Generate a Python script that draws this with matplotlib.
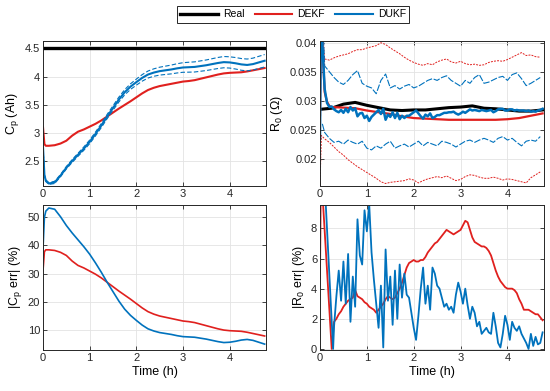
import numpy as np
import matplotlib.pyplot as plt

plt.rcParams['font.family'] = ['Liberation Sans', 'DejaVu Sans']
plt.rcParams['mathtext.fontset'] = 'custom'
plt.rcParams['mathtext.rm'] = 'Liberation Sans'
plt.rcParams['mathtext.it'] = 'Liberation Sans:italic'
plt.rcParams['mathtext.default'] = 'regular'

RED = '#E0201E'
BLUE = '#0072BD'

# ---------------- capacity Cp (Ah) ----------------
cp_real = 4.5
cp_t_head = [0.0, 0.03, 0.06]
cp_step = 0.125
cp_dekf = [3.10, 2.80, 2.77,
           2.770, 2.780, 2.810, 2.860, 2.950, 3.020, 3.060, 3.110, 3.160, 3.220,
           3.290, 3.360, 3.430, 3.495, 3.560, 3.630, 3.700, 3.760, 3.800, 3.830,
           3.850, 3.870, 3.890, 3.910, 3.920, 3.935, 3.960, 3.985, 4.010, 4.035,
           4.055, 4.065, 4.070, 4.075, 4.090, 4.110, 4.130, 4.150]
cp_dukf = [2.75, 2.25, 2.15,
           2.100, 2.120, 2.240, 2.380, 2.500, 2.610, 2.720, 2.840, 2.980, 3.130,
           3.290, 3.440, 3.590, 3.720, 3.820, 3.900, 3.975, 4.035, 4.070, 4.095,
           4.110, 4.125, 4.145, 4.160, 4.165, 4.170, 4.185, 4.200, 4.220, 4.240,
           4.255, 4.250, 4.235, 4.215, 4.205, 4.220, 4.250, 4.280]
cp_dukf_band = [0.0, 0.01, 0.015,
                0.015, 0.020, 0.020, 0.022, 0.025, 0.027, 0.030, 0.032, 0.034, 0.036,
                0.038, 0.040, 0.043, 0.046, 0.050, 0.054, 0.058, 0.062, 0.066, 0.070,
                0.074, 0.078, 0.082, 0.085, 0.088, 0.090, 0.092, 0.094, 0.096, 0.098,
                0.100, 0.100, 0.102, 0.104, 0.105, 0.106, 0.108, 0.110]

# ---------------- resistance R0 (Ohm) ----------------
r0_real_step = 0.25
r0_real = [0.0285, 0.0287, 0.0294, 0.0297, 0.0292, 0.0288, 0.0284, 0.0283,
           0.0284, 0.0284, 0.0286, 0.0288, 0.0289, 0.0291, 0.0287, 0.0286,
           0.0284, 0.0282, 0.0282, 0.0284]

r0_dekf_t_head = [0.0, 0.02, 0.05, 0.10, 0.15, 0.20]
r0_dekf_head = [0.0275, 0.045, 0.040, 0.0315, 0.0298, 0.0291]
r0_dekf = [0.0289, 0.0288, 0.0287, 0.0283, 0.0280, 0.0277, 0.0273, 0.0270,
           0.0269, 0.0268, 0.0267, 0.0267, 0.0267, 0.0267, 0.0267, 0.0268,
           0.0270, 0.0274, 0.0278]

r0_dukf_t_head = [0.0, 0.02]
r0_dukf_head = [0.0235, 0.045]
r0_dukf = [0.0400, 0.0320, 0.0296, 0.0289, 0.0290, 0.0285, 0.0282, 0.0280,
           0.0284, 0.0279, 0.0286, 0.0280, 0.0289, 0.0283, 0.0287, 0.0273,
           0.0278, 0.0279, 0.0270, 0.0274, 0.0265, 0.0272, 0.0276, 0.0280,
           0.0284, 0.0277, 0.0286, 0.0267, 0.0276, 0.0272, 0.0280, 0.0270,
           0.0279, 0.0268, 0.0274, 0.0270, 0.0274, 0.0274, 0.0277, 0.0280,
           0.0283, 0.0278, 0.0273, 0.0269, 0.0276, 0.0273, 0.0278, 0.0270,
           0.0272, 0.0275, 0.0275, 0.0277, 0.0279, 0.0279, 0.0280, 0.0280,
           0.0281, 0.0278, 0.0276, 0.0278, 0.0281, 0.0279, 0.0282, 0.0285,
           0.0283, 0.0284, 0.0283, 0.0282, 0.0284, 0.0283, 0.0282, 0.0283,
           0.0284, 0.0280, 0.0282, 0.0285, 0.0286, 0.0286, 0.0283, 0.0283,
           0.0285, 0.0285, 0.0283, 0.0284, 0.0283, 0.0283, 0.0283, 0.0282,
           0.0283, 0.0281, 0.0282, 0.0281, 0.0283, 0.0284, 0.0286]

bnd_step = 0.1
dekf_up_head = [0.045, 0.045]
dekf_lo_head = [0.0152, 0.0240]
dekf_bnd_t_head = [0.0, 0.03]
dekf_up = [0.0372, 0.0370, 0.0374, 0.0377, 0.0379, 0.0381, 0.0385, 0.0388,
           0.0388, 0.0391, 0.0393, 0.0395, 0.0400, 0.0397, 0.0391, 0.0386,
           0.0381, 0.0375, 0.0370, 0.0366, 0.0363, 0.0361, 0.0364, 0.0362,
           0.0367, 0.0370, 0.0372, 0.0367, 0.0365, 0.0368, 0.0364, 0.0362,
           0.0363, 0.0361, 0.0362, 0.0366, 0.0368, 0.0369, 0.0368, 0.0371,
           0.0375, 0.0379, 0.0383, 0.0378, 0.0379, 0.0376, 0.0375]
dekf_lo = [0.0234, 0.0228, 0.0220, 0.0212, 0.0206, 0.0198, 0.0192, 0.0186,
           0.0181, 0.0176, 0.0171, 0.0166, 0.0160, 0.0157, 0.0159, 0.0160,
           0.0161, 0.0162, 0.0165, 0.0163, 0.0158, 0.0162, 0.0165, 0.0167,
           0.0169, 0.0167, 0.0170, 0.0166, 0.0162, 0.0164, 0.0169, 0.0172,
           0.0171, 0.0168, 0.0166, 0.0166, 0.0168, 0.0166, 0.0163, 0.0165,
           0.0164, 0.0162, 0.0160, 0.0158, 0.0167, 0.0172, 0.0177]

dukf_bnd_t_head = [0.05]
dukf_up_head = [0.045]
dukf_lo_head = [0.0260]
dukf_up = [0.0360, 0.0350, 0.0340, 0.0332, 0.0328, 0.0335, 0.0345, 0.0352,
           0.0330, 0.0325, 0.0322, 0.0312, 0.0335, 0.0346, 0.0322, 0.0326,
           0.0320, 0.0325, 0.0328, 0.0322, 0.0325, 0.0330, 0.0335, 0.0338,
           0.0335, 0.0340, 0.0343, 0.0335, 0.0330, 0.0325, 0.0335, 0.0330,
           0.0340, 0.0345, 0.0330, 0.0332, 0.0336, 0.0340, 0.0342, 0.0335,
           0.0345, 0.0348, 0.0338, 0.0326, 0.0330, 0.0335, 0.0340]
dukf_lo = [0.0245, 0.0235, 0.0228, 0.0230, 0.0225, 0.0232, 0.0228, 0.0225,
           0.0230, 0.0218, 0.0215, 0.0222, 0.0218, 0.0225, 0.0230, 0.0218,
           0.0222, 0.0225, 0.0220, 0.0225, 0.0230, 0.0222, 0.0228, 0.0225,
           0.0222, 0.0230, 0.0228, 0.0225, 0.0220, 0.0225, 0.0230, 0.0232,
           0.0228, 0.0232, 0.0235, 0.0232, 0.0228, 0.0235, 0.0238, 0.0232,
           0.0235, 0.0228, 0.0222, 0.0230, 0.0232, 0.0230, 0.0238]

# ---------------- |R0 err| (%) ----------------
err_step = 0.05
err_tail_start = 0.30
r0err_dekf_t_head = [0.0, 0.02, 0.25]
r0err_dekf_head = [4.7, 12.0, 0.0]
r0err_dekf = [1.8, 2.0, 2.3, 2.5, 2.8, 3.0, 3.2, 3.3, 3.4, 3.9, 3.5, 3.4, 3.3,
              3.1, 3.0, 2.8, 2.7, 2.6, 2.4, 2.6, 2.8, 3.0, 3.3, 3.5, 3.4, 3.3,
              3.4, 3.7, 4.0, 4.4, 4.9, 5.4, 5.7, 5.8, 5.9, 5.8, 5.8, 5.9, 5.9,
              6.1, 6.4, 6.6, 6.8, 7.0, 7.1, 7.3, 7.5, 7.7, 7.9, 7.8, 7.7, 7.6,
              7.7, 7.8, 7.9, 8.2, 8.5, 8.4, 7.9, 7.4, 7.1, 7.0, 6.9, 6.8, 6.8,
              6.7, 6.5, 6.2, 5.7, 5.2, 4.8, 4.5, 4.3, 4.1, 4.0, 4.0, 4.0, 3.9,
              3.7, 3.3, 3.0, 2.6, 2.6, 2.6, 2.5, 2.4, 2.3, 2.3, 2.1, 1.9]
r0err_dukf_t_head = [0.0, 0.05, 0.10, 0.28]
r0err_dukf_head = [20.0, 15.0, 11.0, 0.0]
r0err_dukf = [1.5, 3.5, 5.2, 3.2, 5.8, 3.0, 6.3, 1.8, 4.8, 2.8, 8.6, 6.2, 5.6,
              9.2, 7.8, 9.6, 6.4, 4.6, 3.0, 1.4, 4.2, 0.1, 6.6, 3.2, 4.8, 1.6,
              5.2, 2.0, 5.6, 3.4, 5.0, 3.6, 3.4, 2.4, 1.4, 0.6, 2.2, 4.0, 5.4,
              3.0, 4.2, 2.6, 5.4, 5.0, 4.2, 4.0, 3.4, 2.8, 3.0, 2.6, 2.8, 2.4,
              3.6, 4.4, 3.8, 3.0, 4.0, 2.9, 2.0, 2.8, 2.4, 1.5, 1.8, 1.0, 1.2,
              1.4, 1.1, 1.0, 2.4, 1.5, 0.4, 0.1, 1.0, 2.2, 1.6, 0.6, 1.8, 1.4,
              1.2, 1.5, 1.0, 0.7, 0.4, 0.0, 1.0, 0.2, 0.8, 0.3, 0.4, 1.1]


def series(t_head, v_head, start, step, v_tail):
    t = np.concatenate([t_head, start + step * np.arange(len(v_tail))])
    return t, np.concatenate([v_head, v_tail])


def matlab_axes(ax):
    ax.grid(True, color='#E3E3E3', lw=0.6)
    ax.set_axisbelow(True)
    ax.tick_params(direction='in', length=3, width=0.6, top=True, right=True,
                   labelsize=8, colors='#262626', pad=2)
    for s in ax.spines.values():
        s.set_color('#262626')
        s.set_linewidth(0.7)
    ax.set_xlim(0, 4.78)
    ax.set_xticks([0, 1, 2, 3, 4])


fig = plt.figure(figsize=(5.5, 3.91), dpi=100)
ax1 = fig.add_axes([0.0782, 0.5243, 0.4055, 0.3708])
ax2 = fig.add_axes([0.5818, 0.5243, 0.4073, 0.3708])
ax3 = fig.add_axes([0.0782, 0.1049, 0.4055, 0.3708])
ax4 = fig.add_axes([0.5818, 0.1049, 0.4073, 0.3708])

# Cp
t_cp = np.concatenate([cp_t_head, cp_step * np.arange(1, len(cp_dekf) - len(cp_t_head) + 1)])
cp_dekf = np.array(cp_dekf)
cp_dukf = np.array(cp_dukf)
band = np.array(cp_dukf_band)
h_real = ax1.axhline(cp_real, color='black', lw=2.4)
h_dekf, = ax1.plot(t_cp, cp_dekf, color=RED, lw=1.5)
ax1.plot(t_cp, cp_dukf + band, color=BLUE, lw=0.8, dashes=(4, 2))
ax1.plot(t_cp, cp_dukf - band, color=BLUE, lw=0.8, dashes=(4, 2))
h_dukf, = ax1.plot(t_cp, cp_dukf, color=BLUE, lw=1.5)
matlab_axes(ax1)
ax1.set_ylim(2.056, 4.63)
ax1.set_yticks([2.5, 3, 3.5, 4, 4.5])
ax1.set_yticklabels(['2.5', '3', '3.5', '4', '4.5'])
ax1.set_ylabel('C$_p$ (Ah)', fontsize=9, labelpad=3)

# R0
t, v = series(dekf_bnd_t_head, dekf_up_head, 0.1, bnd_step, dekf_up)
ax2.plot(t, v, color=RED, lw=0.7, dashes=(2, 1.2))
t, v = series(dekf_bnd_t_head, dekf_lo_head, 0.1, bnd_step, dekf_lo)
ax2.plot(t, v, color=RED, lw=0.7, dashes=(2, 1.2))
t, v = series(dukf_bnd_t_head, dukf_up_head, 0.1, bnd_step, dukf_up)
ax2.plot(t, v, color=BLUE, lw=0.8, dashes=(6, 1.5))
t, v = series(dukf_bnd_t_head, dukf_lo_head, 0.1, bnd_step, dukf_lo)
ax2.plot(t, v, color=BLUE, lw=0.8, dashes=(6, 1.5))
ax2.plot(r0_real_step * np.arange(len(r0_real)), r0_real, color='black', lw=2.2)
t, v = series(r0_dekf_t_head, r0_dekf_head, 0.25, 0.25, r0_dekf)
ax2.plot(t, v, color=RED, lw=1.6)
t, v = series(r0_dukf_t_head, r0_dukf_head, 0.05, err_step, r0_dukf)
ax2.plot(t, v, color=BLUE, lw=1.8)
matlab_axes(ax2)
ax2.set_ylim(0.01527, 0.0403)
ax2.set_yticks([0.02, 0.025, 0.03, 0.035, 0.04])
ax2.set_yticklabels(['0.02', '0.025', '0.03', '0.035', '0.04'])
ax2.set_ylabel('R$_0$ (Ω)', fontsize=9, labelpad=3)

# |Cp err|
ax3.plot(t_cp, np.abs(cp_real - cp_dekf) / cp_real * 100, color=RED, lw=1.2)
ax3.plot(t_cp, np.abs(cp_real - cp_dukf) / cp_real * 100, color=BLUE, lw=1.2)
matlab_axes(ax3)
ax3.set_ylim(2.8, 54.4)
ax3.set_yticks([10, 20, 30, 40, 50])
ax3.set_ylabel('|C$_p$ err| (%)', fontsize=9, labelpad=3)
ax3.set_xlabel('Time (h)', fontsize=9, labelpad=2)

# |R0 err|
t, v = series(r0err_dekf_t_head, r0err_dekf_head, err_tail_start, err_step, r0err_dekf)
ax4.plot(t, v, color=RED, lw=1.3)
t, v = series(r0err_dukf_t_head, r0err_dukf_head, err_tail_start, err_step, r0err_dukf)
ax4.plot(t, v, color=BLUE, lw=1.3)
matlab_axes(ax4)
ax4.set_ylim(-0.07, 9.55)
ax4.set_yticks([0, 2, 4, 6, 8])
ax4.set_ylabel('|R$_0$ err| (%)', fontsize=9, labelpad=3)
ax4.set_xlabel('Time (h)', fontsize=9, labelpad=2)

leg = fig.legend([h_real, h_dekf, h_dukf], ['Real', 'DEKF', 'DUKF'],
                 loc='center', bbox_to_anchor=(0.533, 0.963), ncol=3,
                 prop={'family': 'Liberation Sans', 'size': 7.5},
                 handlelength=3.6, columnspacing=1.0,
                 handletextpad=0.5, borderpad=0.3, fancybox=False,
                 edgecolor='#262626', framealpha=1)
leg.get_frame().set_linewidth(0.7)

fig.savefig('out.png', dpi=100)
